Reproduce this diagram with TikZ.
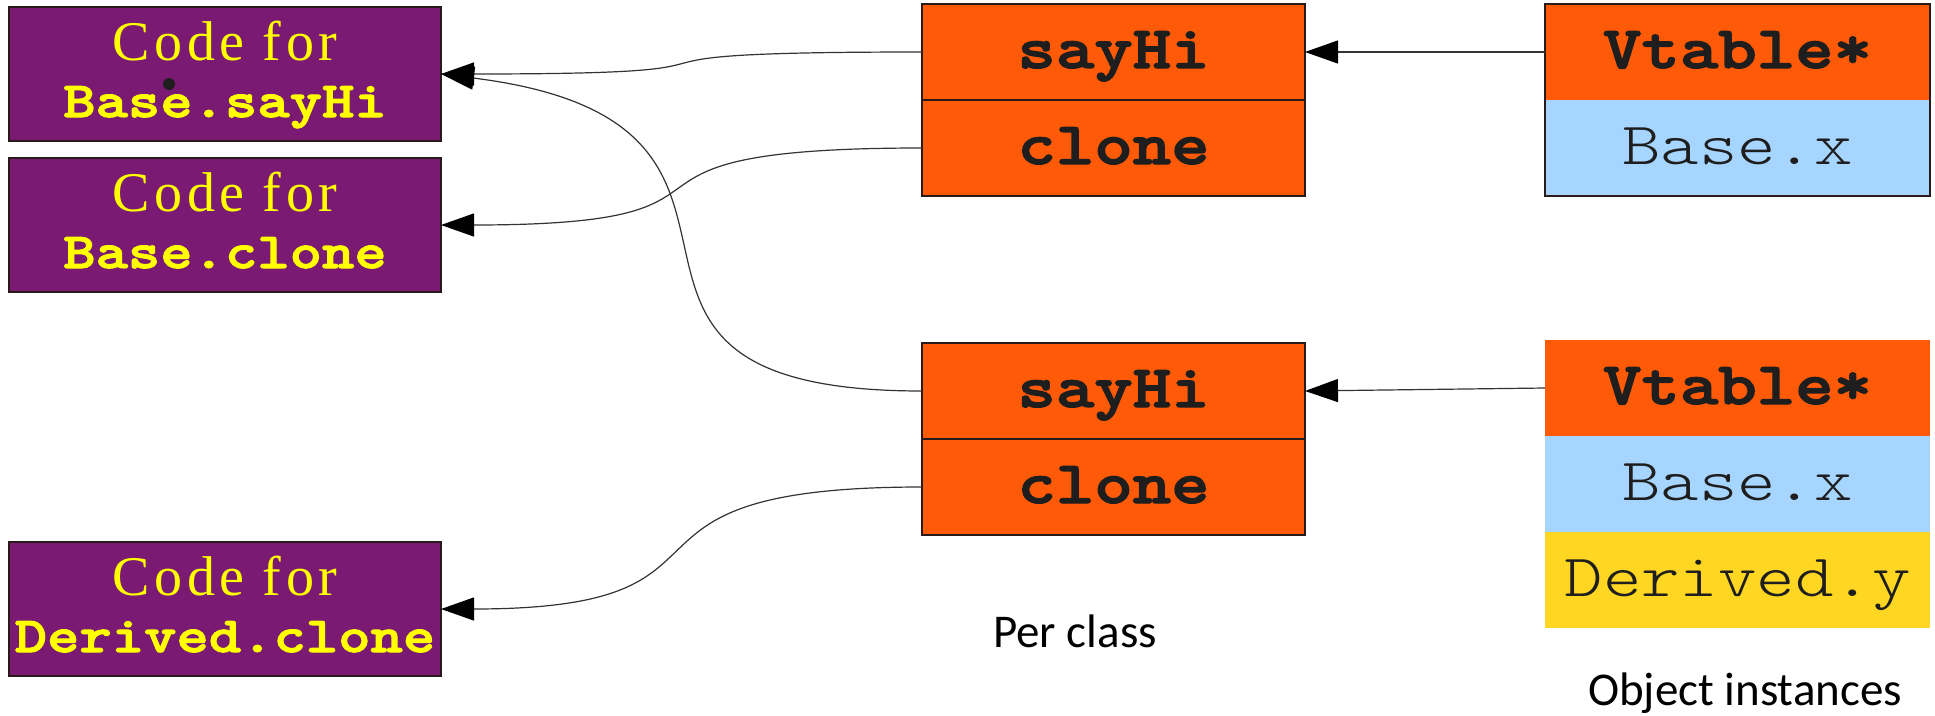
\documentclass[tikz,border=0pt]{standalone}
\usepackage{fontspec}
\usetikzlibrary{arrows.meta}
\newfontfamily\codeserif[LetterSpace=8]{Liberation Serif}
\newfontfamily\codemono{lmmonolt10-regular.otf}[BoldFont=lmmonolt10-bold.otf,
  BoldFeatures={FakeBold=2.2}, FakeStretch=1.22]
\newfontfamily\notefont{Carlito}

\definecolor{codepurple}{HTML}{7B1A73}
\definecolor{codeyellow}{HTML}{FFFF00}
\definecolor{slotorange}{HTML}{FF5A08}
\definecolor{fieldblue}{HTML}{A6D5FF}
\definecolor{fieldyellow}{HTML}{FFD621}
\definecolor{inkdark}{HTML}{1E1E1E}
\definecolor{edge}{HTML}{2A1A1A}

\tikzset{
  codebox/.style={draw=edge, line width=1.3pt, fill=codepurple, anchor=north west,
    minimum width=432pt, minimum height=134pt, inner sep=0pt, outer sep=0pt},
  codetitle/.style={anchor=base, text=codeyellow, inner sep=0pt,
    font=\codeserif\fontsize{56pt}{56pt}\selectfont},
  codename/.style={anchor=base, text=codeyellow, inner sep=0pt,
    font=\codemono\bfseries\fontsize{50.5pt}{50.5pt}\selectfont},
  cell/.style={anchor=north west, minimum width=383pt, minimum height=96pt,
    inner sep=0pt, outer sep=0pt, text height=40pt, text depth=8pt, text=inkdark},
  slot/.style={cell, draw=edge, line width=1.3pt, fill=slotorange,
    font=\codemono\bfseries\fontsize{60pt}{60pt}\selectfont},
  objcell/.style={cell, minimum width=385pt},
  ptrcell/.style={objcell, fill=slotorange, font=\codemono\bfseries\fontsize{60pt}{60pt}\selectfont},
  basecell/.style={objcell, fill=fieldblue, font=\codemono\fontsize{60pt}{60pt}\selectfont},
  derivedcell/.style={objcell, fill=fieldyellow, font=\codemono\fontsize{60pt}{60pt}\selectfont},
  caption/.style={anchor=base, inner sep=0pt, text=black,
    font=\notefont\fontsize{47pt}{47pt}\selectfont},
  ptr/.style={draw=black!80, line width=1.2pt,
    -{Triangle[length=33pt,width=23pt,color=black]}},
}

\begin{document}
\begin{tikzpicture}[x=1pt,y=-1pt]
\useasboundingbox (0,0) rectangle (1935,715);

% method bodies
\node[codebox] (cA) at (9,7) {};
\node[codetitle] (cAt) at (225,60) {Code for};
\node[codename] (cAn) at (225,117) {Base.sayHi};
\node[circle, fill=inkdark, minimum size=12pt, inner sep=0pt] (dot) at (169,84) {};

\node[codebox] (cB) at (9,158) {};
\node[codetitle] (cBt) at (225,211) {Code for};
\node[codename] (cBn) at (225,268) {Base.clone};

\node[codebox] (cC) at (9,542) {};
\node[codetitle] (cCt) at (225,595) {Code for};
\node[codename] (cCn) at (225,652) {Derived.clone};

% vtables, one per class
\node[slot] (t1s) at (922,4) {sayHi};
\node[slot] (t1c) at (922,100) {clone};
\node[slot] (t2s) at (922,343) {sayHi};
\node[slot] (t2c) at (922,439) {clone};

% object layouts
\node[ptrcell] (o1v) at (1545,4) {Vtable*};
\node[basecell] (o1x) at (1545,100) {Base.x};
\draw[draw=edge, line width=1.3pt] (o1v.north west) rectangle (o1x.south east);

\node[ptrcell] (o2v) at (1545,340) {Vtable*};
\node[basecell] (o2x) at (1545,436) {Base.x};
\node[derivedcell] (o2y) at (1545,532) {Derived.y};

% captions
\node[caption] (perclass) at (1075,647) {Per class};
\node[caption] (objinst) at (1745,705) {Object instances};

% pointers
\draw[ptr] (o1v.west) -- (t1s.east);
\draw[ptr] (o2v.west) -- (t2s.east);
\draw[ptr] (t1s.west) .. controls +(-383,0) and +(379,0) .. (cA.east);
\draw[ptr] (t1c.west) .. controls +(-362,0) and +(349,0) .. (cB.east);
\draw[ptr] (t2s.west) .. controls +(-400,0) and +(400,50) .. (cA.east);
\draw[ptr] (t2c.west) .. controls +(-345,0) and +(329,0) .. (cC.east);
\end{tikzpicture}
\end{document}
